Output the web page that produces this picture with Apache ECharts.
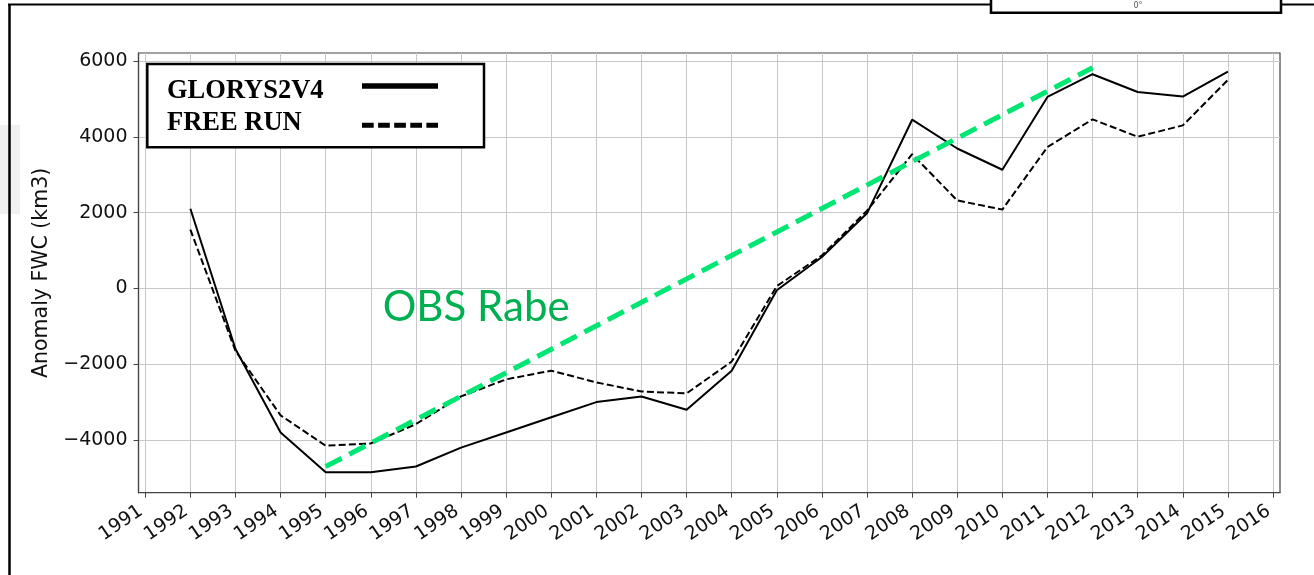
<!DOCTYPE html>
<html>
<head>
<meta charset="utf-8">
<script src="https://cdn.jsdelivr.net/npm/echarts@6/dist/echarts.min.js"></script>
<style>
    html, body { margin: 0; padding: 0; background: #fff; }
    #fwc_chart { width: 1314px; height: 575px; }
</style>
</head>
<body>
<div id="fwc_chart"></div>
<script>
// years of the model runs
var years = [1992, 1993, 1994, 1995, 1996, 1997, 1998, 1999, 2000, 2001, 2002, 2003,
             2004, 2005, 2006, 2007, 2008, 2009, 2010, 2011, 2012, 2013, 2014, 2015];
// anomaly FWC (km3)
var glorys = [2100, -1600, -3800, -4850, -4850, -4700, -4200, -3800, -3400, -3000, -2850, -3200,
              -2170, -50, 830, 1980, 4450, 3690, 3130, 5050, 5650, 5180, 5060, 5720];
var freeRun = [1550, -1650, -3350, -4150, -4090, -3580, -2850, -2400, -2170, -2480, -2720, -2770,
               -1930, 60, 870, 2050, 3540, 2320, 2080, 3730, 4460, 4000, 4300, 5500];
// observed trend (Rabe)
var obsYears = [1995, 2012];
var obsValues = [-4700, 5820];

var xTicks = [1991, 1992, 1993, 1994, 1995, 1996, 1997, 1998, 1999, 2000, 2001, 2002, 2003,
              2004, 2005, 2006, 2007, 2008, 2009, 2010, 2011, 2012, 2013, 2014, 2015, 2016];
var yTicks = [-4000, -2000, 0, 2000, 4000, 6000];

function pairs(xs, ys) {
    return xs.map(function (x, i) { return [x, ys[i]]; });
}

var fwc_chart;
function initFwcChart() {
    fwc_chart = echarts.init(document.getElementById('fwc_chart'));

    var tickFont = {fontFamily: 'DejaVu Sans', fontSize: 19, color: '#111'};

    var option = {
        animation: false,
        backgroundColor: '#fff',
        grid: {
            left: 138.5, right: 34, top: 53, bottom: 82.3,
            show: true, borderColor: '#444', borderWidth: 1.2,
            outerBoundsMode: 'none'
        },
        xAxis: {
            type: 'value',
            min: 1990.85,
            max: 2016.155,
            axisLine: {show: true, onZero: false, lineStyle: {color: '#444', width: 1.2}},
            axisTick: {show: true, customValues: xTicks, length: 5, lineStyle: {color: '#444'}},
            axisLabel: Object.assign({
                customValues: xTicks,
                rotate: 34,
                margin: 14,
                padding: [0, 5, 0, 0],
                formatter: function (v) { return String(v); }
            }, tickFont),
            splitLine: {show: true, lineStyle: {color: '#c8c8c8', width: 1}}
        },
        yAxis: {
            type: 'value',
            min: -5390,
            max: 6210,
            name: 'Anomaly FWC (km3)',
            nameLocation: 'middle',
            nameGap: 86,
            nameMoveOverlap: false,
            nameTextStyle: {fontFamily: 'DejaVu Sans', fontSize: 20.5, color: '#111'},
            axisLine: {show: true, onZero: false, lineStyle: {color: '#444', width: 1.2}},
            axisTick: {show: true, customValues: yTicks, length: 5, lineStyle: {color: '#444'}},
            axisLabel: Object.assign({
                customValues: yTicks,
                margin: 11,
                formatter: function (v) { return String(v).replace('-', '\u2212'); }
            }, tickFont),
            splitLine: {show: true, lineStyle: {color: '#c8c8c8', width: 1}}
        },
        series: [
            {
                name: 'GLORYS2V4',
                type: 'line',
                data: pairs(years, glorys),
                symbol: 'none',
                lineStyle: {color: '#000', width: 2}
            },
            {
                name: 'FREE RUN',
                type: 'line',
                data: pairs(years, freeRun),
                symbol: 'none',
                lineStyle: {color: '#000', width: 2, type: [7, 3.2]}
            },
            {
                name: 'OBS Rabe',
                type: 'line',
                data: pairs(obsYears, obsValues),
                symbol: 'none',
                z: 5,
                lineStyle: {color: '#00e673', width: 5, type: [18, 8.5]}
            }
        ],
        graphic: [
            // figure frame left over from the original slide
            {type: 'rect', silent: true, z: 0, shape: {x: 0, y: 125, width: 20, height: 89},
             style: {fill: '#f0f0f0'}},
            {type: 'line', silent: true, z: 100, shape: {x1: 9.5, y1: 4.5, x2: 9.5, y2: 580},
             style: {stroke: '#000', lineWidth: 2.5}},
            {type: 'line', silent: true, z: 100, shape: {x1: 8, y1: 4.5, x2: 991, y2: 4.5},
             style: {stroke: '#000', lineWidth: 2}},
            {type: 'line', silent: true, z: 100, shape: {x1: 1281, y1: 4.5, x2: 1314, y2: 4.5},
             style: {stroke: '#000', lineWidth: 2}},
            {type: 'rect', silent: true, z: 100, shape: {x: 991, y: -5, width: 290, height: 17.7},
             style: {fill: '#fff', stroke: '#000', lineWidth: 2.5}},
            {type: 'text', silent: true, z: 101,
             style: {x: 1138, y: 6, text: '0°', font: '8px "DejaVu Sans"', fill: '#555',
                     align: 'center', verticalAlign: 'middle'}},

            // legend
            {type: 'rect', silent: true, z: 100, shape: {x: 147.3, y: 64, width: 336.7, height: 83.3},
             style: {fill: '#fff', stroke: '#000', lineWidth: 2.5}},
            {type: 'text', silent: true, z: 101,
             style: {x: 167, y: 91.2, text: 'GLORYS2V4', font: 'bold 26.5px "Liberation Serif"',
                     fill: '#000', verticalAlign: 'middle'}},
            {type: 'text', silent: true, z: 101,
             style: {x: 167, y: 123.1, text: 'FREE RUN', font: 'bold 26.5px "Liberation Serif"',
                     fill: '#000', verticalAlign: 'middle'}},
            {type: 'line', silent: true, z: 101, shape: {x1: 362, y1: 86, x2: 438, y2: 86},
             style: {stroke: '#000', lineWidth: 5.5}},
            {type: 'line', silent: true, z: 101, shape: {x1: 362, y1: 125.3, x2: 438, y2: 125.3},
             style: {stroke: '#000', lineWidth: 5, lineDash: [11.7, 4.4]}},

            // annotation for the green trend
            {type: 'text', silent: true, z: 101,
             style: {x: 382.7, y: 307.8, text: 'OBS Rabe', font: '42px Lato',
                     fill: '#00b050', verticalAlign: 'middle'}}
        ]
    };

    fwc_chart.setOption(option);
}

window.onload = function () {
    initFwcChart();
};
</script>
</body>
</html>
